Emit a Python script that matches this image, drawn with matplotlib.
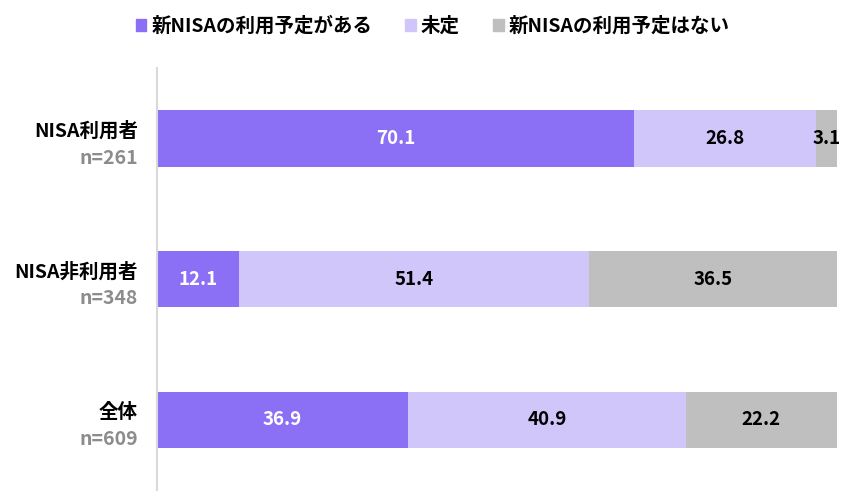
import matplotlib
matplotlib.use("Agg")
from matplotlib import pyplot as plt
from matplotlib.patches import Patch

plt.rcParams['font.family'] = ['Noto Sans CJK JP', 'DejaVu Sans']

groups = ['NISA利用者', 'NISA非利用者', '全体']
counts = ['n=261', 'n=348', 'n=609']
series = ['新NISAの利用予定がある', '未定', '新NISAの利用予定はない']
values = [
    [70.1, 12.1, 36.9],
    [26.8, 51.4, 40.9],
    [3.1, 36.5, 22.2],
]
colors = ['#8B70F5', '#D0C6FA', '#BFBFBF']
text_colors = ['white', 'black', 'black']

fig = plt.figure(figsize=(8.6, 4.93), dpi=100)
ax = fig.add_axes([0.1826, 0.006, 0.7904, 0.856])

y = list(range(len(groups)))
left = [0.0] * len(groups)
for vals, c, tc in zip(values, colors, text_colors):
    ax.barh(y, vals, left=left, height=0.4, color=c)
    for i, v in enumerate(vals):
        ax.text(left[i] + v / 2, i, f'{v:.1f}', ha='center', va='center',
                color=tc, fontsize=13.5, fontweight='bold')
    left = [l + v for l, v in zip(left, vals)]

ax.set_xlim(0, 100)
ax.set_ylim(2.5, -0.5)
ax.set_xticks([])
ax.set_yticks([])
for s in ['top', 'right', 'bottom']:
    ax.spines[s].set_visible(False)
ax.spines['left'].set_color('#D9D9D9')
ax.spines['left'].set_linewidth(1.5)

for i, (g, n) in enumerate(zip(groups, counts)):
    ax.text(-2.8, i - 0.05, g, ha='right', va='center', fontsize=14,
            fontweight='bold', color='black')
    ax.text(-2.8, i + 0.14, n, ha='right', va='center', fontsize=14,
            fontweight='bold', color='#8C8C8C')

handles = [Patch(color=c, label=s) for c, s in zip(colors, series)]
fig.legend(handles=handles, loc='center', bbox_to_anchor=(0.503, 0.947), ncol=3,
           frameon=False, handlelength=0.55, handleheight=0.55,
           handletextpad=0.25, columnspacing=1.7,
           prop={'weight': 'bold', 'size': 14})

fig.savefig('out.png', dpi=100)
